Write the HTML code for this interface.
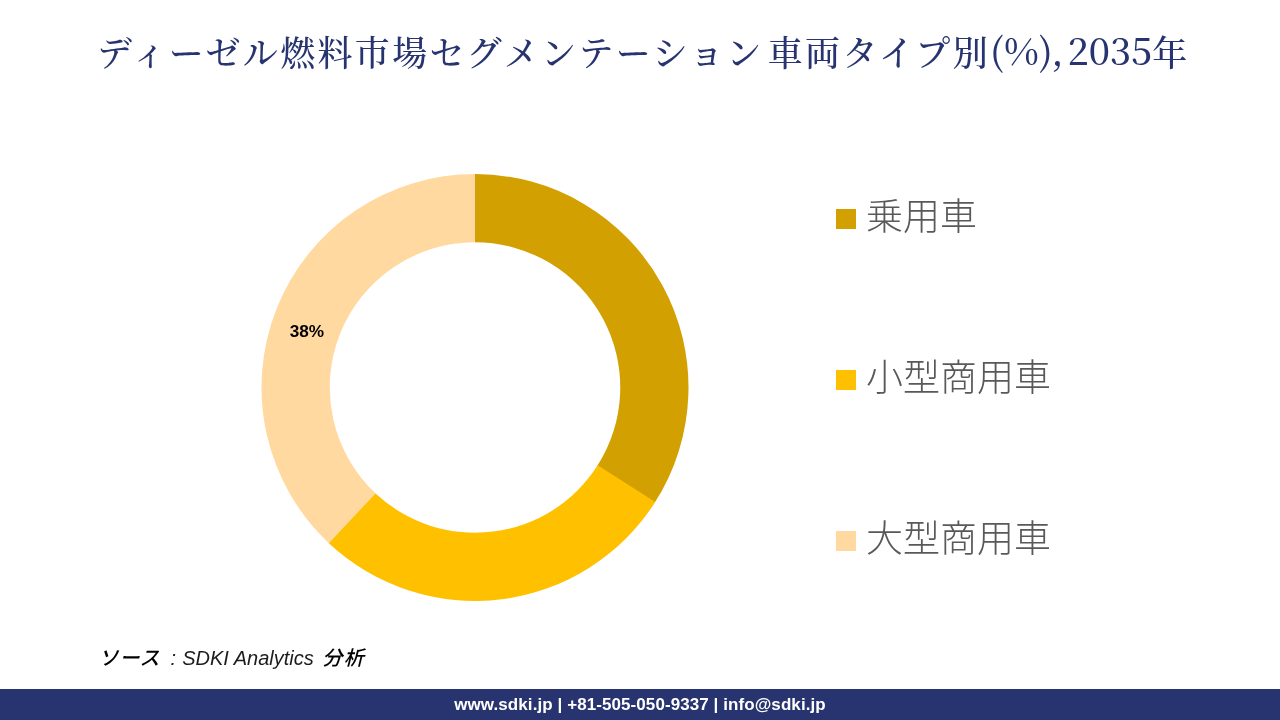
<!DOCTYPE html>
<html lang="ja">
<head>
<meta charset="utf-8">
<title>ディーゼル燃料市場セグメンテーション 車両タイプ別(%), 2035年</title>
<style>
html,body{margin:0;padding:0;}
body{width:1280px;height:720px;background:#fff;position:relative;overflow:hidden;font-family:"Liberation Sans","Noto Sans CJK JP",sans-serif;}
.title{position:absolute;left:97px;top:22px;margin:0;white-space:nowrap;font-family:"Liberation Serif","Noto Serif CJK JP","Noto Serif CJK SC",serif;font-weight:500;font-size:35px;letter-spacing:2.33px;line-height:56px;color:#27346F;}
.title .lat{font-family:"Noto Serif CJK JP","Noto Serif CJK SC","Liberation Serif",serif;font-size:37.33px;letter-spacing:0;word-spacing:-5.5px;position:relative;top:-1px;}
.chart{position:absolute;left:0;top:0;width:1280px;height:720px;}
.lbl{position:absolute;left:289.7px;top:320.6px;font-family:"Liberation Sans",sans-serif;font-weight:700;font-size:17.2px;line-height:20px;color:#000;}
.legend{position:absolute;left:836px;top:0;margin:0;padding:0;list-style:none;}
.legend li{position:absolute;left:0;white-space:nowrap;font-family:"Liberation Sans","Noto Sans CJK JP",sans-serif;font-weight:300;font-size:37px;line-height:50px;color:#595959;padding-left:30px;height:50px;}
.legend li i{position:absolute;left:0;top:16px;width:20px;height:20px;display:block;}
.source .sa{letter-spacing:1px;font-weight:500;}.source .sb{margin-left:4.5px;color:#1c1c1c;}.source .sc{margin-left:0.5px;color:#1c1c1c;}.source .sd{margin-left:-5.5px;letter-spacing:1.5px;font-weight:500;}
.source{position:absolute;left:98.5px;top:644px;margin:0;white-space:pre;font-family:"Liberation Sans","Noto Sans CJK JP",sans-serif;font-style:italic;font-size:20px;line-height:28px;color:#000;}
.footer{position:absolute;left:0;top:689px;width:1280px;height:31px;background:#27346F;color:#fff;text-align:center;font-family:"Liberation Sans",sans-serif;font-weight:700;font-size:17px;letter-spacing:0.08px;line-height:32px;white-space:nowrap;}
</style>
</head>
<body>
<h1 class="title">ディーゼル燃料市場セグメンテーション<span class="lat"> </span>車両タイプ別<span class="lat">(%), 2035</span>年</h1>
<svg class="chart" width="1280" height="720" viewBox="0 0 1280 720">
<path d="M329.67 543.90A213.5 213.5 0 0 1 476.12 174.00L475.76 242.25A145.25 145.25 0 0 0 376.13 493.90Z" fill="#FFD9A0"/>
<path d="M475.00 174.00A213.5 213.5 0 0 1 654.66 502.84L597.23 465.97A145.25 145.25 0 0 0 475.00 242.25Z" fill="#D2A000"/>
<path d="M655.26 501.90A213.5 213.5 0 0 1 328.85 543.13L375.57 493.38A145.25 145.25 0 0 0 597.64 465.33Z" fill="#FFC000"/>
</svg>
<div class="lbl">38%</div>
<ul class="legend">
<li style="top:193px"><i style="background:#D2A000"></i>乗用車</li>
<li style="top:354px"><i style="background:#FFC000"></i>小型商用車</li>
<li style="top:515px"><i style="background:#FFD9A0"></i>大型商用車</li>
</ul>
<p class="source"><span class="sa">ソース</span><span class="sb"> : </span><span class="sc">SDKI Analytics</span><span class="sd">  分析</span></p>
<div class="footer">www.sdki.jp | +81-505-050-9337 | info@sdki.jp</div>
</body>
</html>
